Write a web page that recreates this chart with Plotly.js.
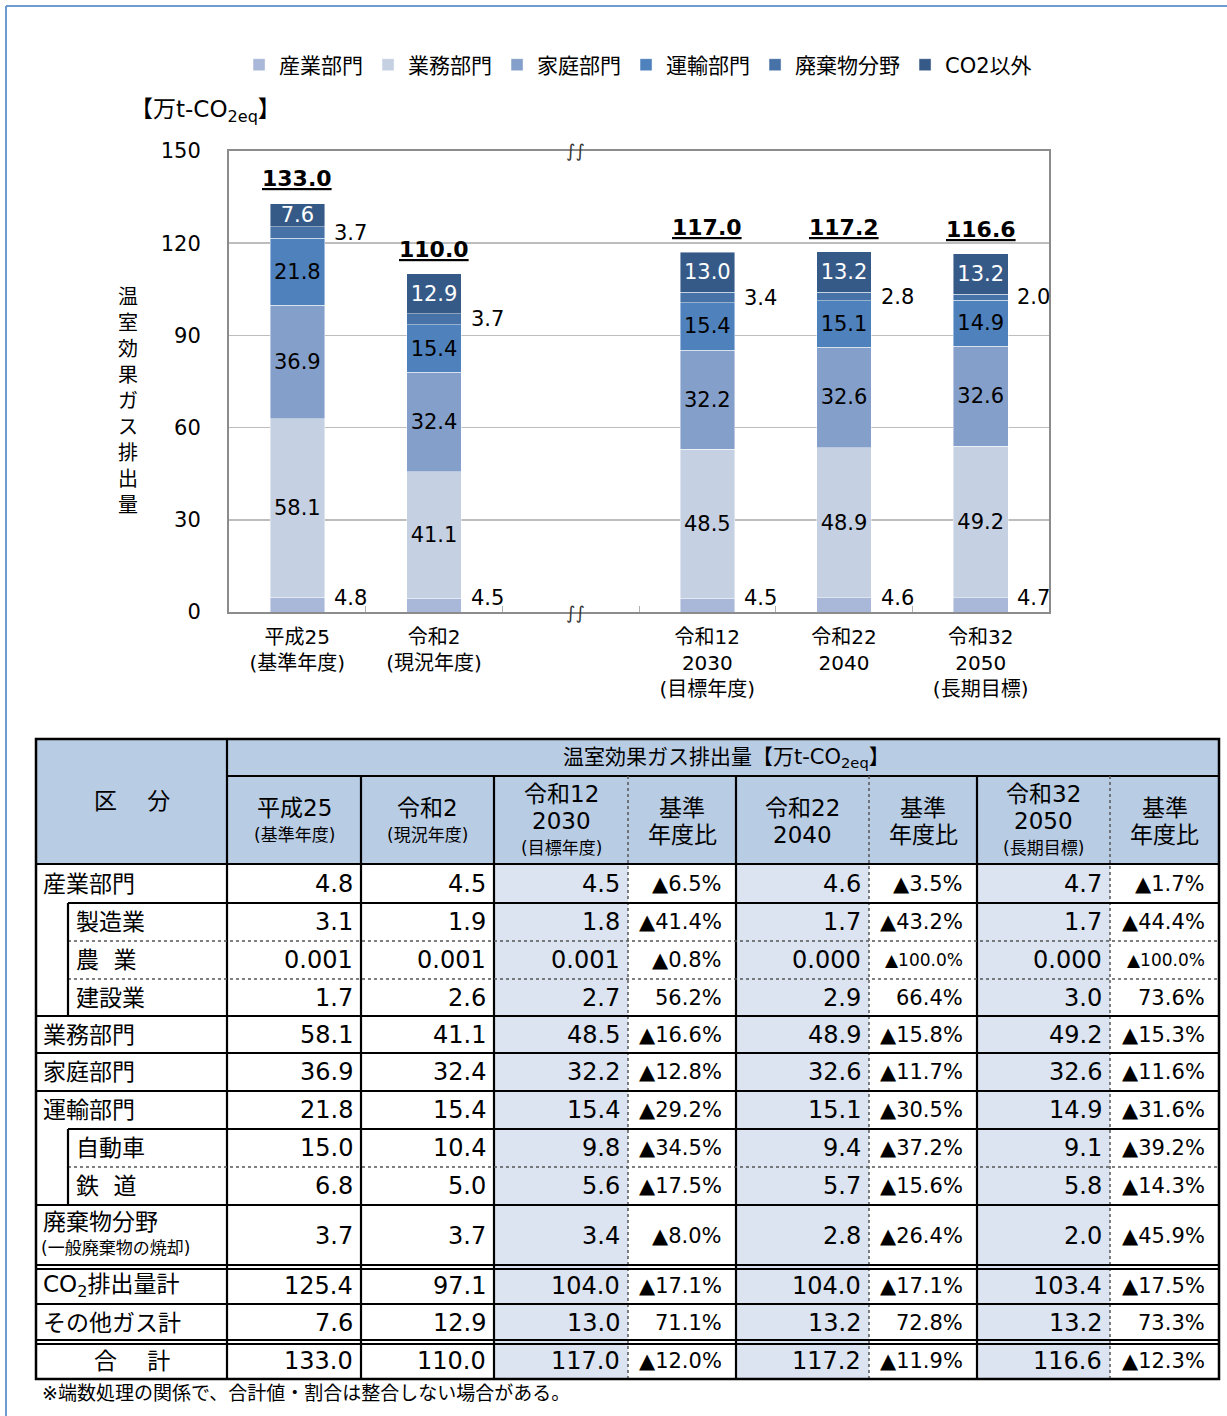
<!DOCTYPE html>
<html>
<head>
<meta charset="utf-8">
<script src="https://cdn.plot.ly/plotly-3.0.1.min.js"></script>
<style>
  html, body { margin: 0; padding: 0; background: #ffffff; }
  #chart { width: 1227px; height: 1416px; }
</style>
</head>
<body>
<div id="chart"></div>
<script>
// ---------------- DATA ----------------
const categories = ['平成25<br>(基準年度)', '令和2<br>(現況年度)', '令和12<br>2030<br>(目標年度)', '令和22<br>2040', '令和32<br>2050<br>(長期目標)'];
const spacerCategory = ' ';
const sectorNames = ['産業部門', '業務部門', '家庭部門', '運輸部門', '廃棄物分野', 'CO2以外'];
const industry  = [4.8, 4.5, 4.5, 4.6, 4.7];
const business  = [58.1, 41.1, 48.5, 48.9, 49.2];
const household = [36.9, 32.4, 32.2, 32.6, 32.6];
const transport = [21.8, 15.4, 15.4, 15.1, 14.9];
const waste     = [3.7, 3.7, 3.4, 2.8, 2.0];
const nonCO2    = [7.6, 12.9, 13.0, 13.2, 13.2];
const totals    = [133.0, 110.0, 117.0, 117.2, 116.6];
const yTicks    = [0, 30, 60, 90, 120, 150];

// table data
const tableTitle = '温室効果ガス排出量【万t-CO<sub>2eq</sub>】';
const cornerLabel = '区\u3000\u00a0分';
const colHeadMain = ['平成25', '令和2', '令和12<br>2030', '基準<br>年度比', '令和22<br>2040', '基準<br>年度比', '令和32<br>2050', '基準<br>年度比'];
const colHeadSub  = ['(基準年度)', '(現況年度)', '(目標年度)', '', '', '', '(長期目標)', ''];
const rowLabels = ['産業部門', '製造業', '農\u00a0\u00a0業', '建設業', '業務部門', '家庭部門', '運輸部門', '自動車', '鉄\u00a0\u00a0道', '廃棄物分野', 'CO<sub>2</sub>排出量計', 'その他ガス計', '合\u3000\u00a0計'];
const rowNotes  = ['', '', '', '', '', '', '', '', '', '(一般廃棄物の焼却)', '', '', ''];
const colH25     = [4.8, 3.1, 0.001, 1.7, 58.1, 36.9, 21.8, 15.0, 6.8, 3.7, 125.4, 7.6, 133.0];
const colR2      = [4.5, 1.9, 0.001, 2.6, 41.1, 32.4, 15.4, 10.4, 5.0, 3.7, 97.1, 12.9, 110.0];
const colR12     = [4.5, 1.8, 0.001, 2.7, 48.5, 32.2, 15.4, 9.8, 5.6, 3.4, 104.0, 13.0, 117.0];
const colR12Rate = [-6.5, -41.4, -0.8, 56.2, -16.6, -12.8, -29.2, -34.5, -17.5, -8.0, -17.1, 71.1, -12.0];
const colR22     = [4.6, 1.7, 0.000, 2.9, 48.9, 32.6, 15.1, 9.4, 5.7, 2.8, 104.0, 13.2, 117.2];
const colR22Rate = [-3.5, -43.2, -100.0, 66.4, -15.8, -11.7, -30.5, -37.2, -15.6, -26.4, -17.1, 72.8, -11.9];
const colR32     = [4.7, 1.7, 0.000, 3.0, 49.2, 32.6, 14.9, 9.1, 5.8, 2.0, 103.4, 13.2, 116.6];
const colR32Rate = [-1.7, -44.4, -100.0, 73.6, -15.3, -11.6, -31.6, -39.2, -14.3, -45.9, -17.5, 73.3, -12.3];
const footnote = '※端数処理の関係で、合計値・割合は整合しない場合がある。';

// ---------------- STYLE / LAYOUT CONSTANTS ----------------
const W = 1227, H = 1416;
const FONT = "'DejaVu Sans', 'Noto Sans CJK JP', sans-serif";
const px = x => x / W;
const py = y => 1 - y / H;
const sectorColors = ['#a9b8d9', '#c5d0e3', '#849fc9', '#4f81bd', '#4772a8', '#365a87'];
const insideLabel  = [false, true, true, true, false, true];
const labelColors  = ['#000', '#000', '#000', '#000', '#000', '#fff'];
const series = [industry, business, household, transport, waste, nonCO2];

const traces = series.map((vals, i) => ({
  type: 'bar',
  name: sectorNames[i],
  x: categories,
  y: vals,
  width: 0.4,
  marker: { color: sectorColors[i], line: { color: 'rgba(255,255,255,0.55)', width: 0.8 } },
  text: insideLabel[i] ? vals.map(v => v.toFixed(1)) : undefined,
  textposition: insideLabel[i] ? 'inside' : 'none',
  insidetextanchor: 'middle',
  textangle: 0,
  constraintext: 'none',
  textfont: { family: FONT, size: 21, color: labelColors[i] },
  hoverinfo: 'skip',
  xaxis: 'x', yaxis: 'y'
}));

const annotations = [];
const shapes = [];

// outside labels for small segments + totals
categories.forEach((c, i) => {
  annotations.push({ x: c, y: industry[i] / 2, xref: 'x', yref: 'y', text: industry[i].toFixed(1),
    showarrow: false, xanchor: 'center', yanchor: 'middle', xshift: 53, yshift: 7,
    font: { family: FONT, size: 21, color: '#000' } });
  const base = industry[i] + business[i] + household[i] + transport[i];
  annotations.push({ x: c, y: base + waste[i] / 2, xref: 'x', yref: 'y', text: waste[i].toFixed(1),
    showarrow: false, xanchor: 'center', yanchor: 'middle', xshift: 53,
    font: { family: FONT, size: 21, color: '#000' } });
  annotations.push({ x: c, y: totals[i], xref: 'x', yref: 'y', text: '<b><u>' + totals[i].toFixed(1) + '</u></b>',
    showarrow: false, xanchor: 'center', yanchor: 'bottom', yshift: 10,
    font: { family: FONT, size: 22, color: '#000' } });
});

// axis break marks
[1, 0].forEach(yy => {
  annotations.push({ x: spacerCategory, y: yy, xref: 'x', yref: 'y domain', text: '∫∫', showarrow: false,
    xanchor: 'center', yanchor: 'middle', xshift: 5, font: { family: FONT, size: 18, color: '#333' } });
});

// y-axis title (vertical stacked characters)
annotations.push({ x: px(128), y: py(401), xref: 'paper', yref: 'paper', showarrow: false,
  xanchor: 'center', yanchor: 'middle',
  text: '温室効果ガス排出量'.split('').join('<br>'), font: { family: FONT, size: 20, color: '#000' } });
// unit
annotations.push({ x: px(128), y: py(111), xref: 'paper', yref: 'paper', showarrow: false,
  xanchor: 'left', yanchor: 'middle',
  text: '【万t-CO<sub>2eq</sub>】', font: { family: FONT, size: 23, color: '#000' } });

// outer frame
shapes.push({ type: 'line', xref: 'paper', yref: 'paper', x0: px(6), x1: 1, y0: py(6), y1: py(6), line: { color: '#6d9bd6', width: 2 } });
shapes.push({ type: 'line', xref: 'paper', yref: 'paper', x0: px(6), x1: px(6), y0: py(6), y1: 0, line: { color: '#6d9bd6', width: 2 } });

// ---------------- TABLE ----------------
const T_LEFT = 36, T_TOP = 739, T_W = 1183, T_H = 640;
const colEdges = [0, 191, 325, 458, 592, 700, 833, 941, 1074, 1183];
const HEAD1 = 37, HEAD2 = 125;
const rowHeights = [39, 38, 38, 37, 37, 38, 38, 38, 38, 62, 37, 38, 37];
const rowEdges = [HEAD2];
rowHeights.forEach(h => rowEdges.push(rowEdges[rowEdges.length - 1] + h));
const subRows = [1, 2, 3, 7, 8];
const SUB_X = 32;
const doubleEdges = [10, 12];
const projCols = [2, 4, 6];
const valueCols = [colH25, colR2, colR12, colR12Rate, colR22, colR22Rate, colR32, colR32Rate];
const isRate = [false, false, false, true, false, true, false, true];

const tx = 'x2', ty = 'y2';
const LINE = { color: '#000', width: 2.2 };
const DOT = { color: '#555', width: 1.5, dash: 'dot' };
const hl = (y, x0, x1, line) => shapes.push({ type: 'line', xref: tx, yref: ty, x0, x1, y0: y, y1: y, line });
const vl = (x, y0, y1, line) => shapes.push({ type: 'line', xref: tx, yref: ty, x0: x, x1: x, y0, y1, line });

// fills
shapes.push({ type: 'rect', xref: tx, yref: ty, x0: 0, x1: T_W, y0: 0, y1: HEAD2, fillcolor: '#b8cce4', line: { width: 0 } });
projCols.forEach(j => {
  shapes.push({ type: 'rect', xref: tx, yref: ty, x0: colEdges[j + 1], x1: colEdges[j + 2], y0: HEAD2, y1: T_H, fillcolor: '#dbe4f0', line: { width: 0 } });
});
// header lines
hl(HEAD1, colEdges[1], T_W, LINE);
hl(HEAD2, 0, T_W, LINE);
vl(colEdges[1], 0, T_H, LINE);
[2, 3, 5, 7].forEach(k => vl(colEdges[k], HEAD1, T_H, LINE));
[4, 6, 8].forEach(k => vl(colEdges[k], HEAD1, T_H, DOT));
// row separators
for (let k = 1; k < rowHeights.length; k++) {
  const y = rowEdges[k];
  const curSub = subRows.includes(k), prevSub = subRows.includes(k - 1);
  const x0 = curSub ? SUB_X : 0;
  if (doubleEdges.includes(k)) {
    hl(y - 2, 0, T_W, { color: '#000', width: 2 });
    hl(y + 2, 0, T_W, { color: '#000', width: 2 });
  } else if (curSub && prevSub) {
    hl(y, x0, T_W, DOT);
  } else {
    hl(y, x0, T_W, LINE);
  }
}
vl(SUB_X, rowEdges[1], rowEdges[4], LINE);
vl(SUB_X, rowEdges[7], rowEdges[9], LINE);
// outer border
shapes.push({ type: 'rect', xref: tx, yref: ty, x0: 0, x1: T_W, y0: 0, y1: T_H, line: { color: '#000', width: 2.5 } });

// table texts
const ta = (x, y, text, size, xanchor) => annotations.push({ x, y, xref: tx, yref: ty, text, showarrow: false,
  xanchor: xanchor || 'center', yanchor: 'middle', font: { family: FONT, size, color: '#000' } });

ta((colEdges[1] + T_W) / 2 + 3, HEAD1 / 2, tableTitle, 21);
ta(colEdges[1] / 2, 62, cornerLabel, 23);
colHeadMain.forEach((m, j) => {
  const lines = m.split('<br>').map(s => [s, 23]);
  if (colHeadSub[j]) lines.push([colHeadSub[j], 17]);
  const cx = (colEdges[j + 1] + colEdges[j + 2]) / 2;
  lines.forEach((ln, k) => ta(cx, 82 + (k - (lines.length - 1) / 2) * 27, ln[0], ln[1]));
});
rowLabels.forEach((lab, r) => {
  const cy = (rowEdges[r] + rowEdges[r + 1]) / 2;
  const isSub = subRows.includes(r);
  const isTotal = r === rowLabels.length - 1;
  if (isTotal) {
    ta(colEdges[1] / 2, cy, lab, 23);
  } else if (rowNotes[r]) {
    ta(5, cy - 14, lab, 23, 'left');
    ta(3, cy + 12, rowNotes[r], 17, 'left');
  } else {
    ta(isSub ? SUB_X + 6 : 5, cy, lab, 23, 'left');
  }
  valueCols.forEach((col, j) => {
    const v = col[r];
    if (isRate[j]) {
      const txt = (v < 0 ? '▲' : '') + Math.abs(v).toFixed(1) + '%';
      const size = Math.abs(v) >= 100 ? 17 : 21;
      ta(colEdges[j + 2] - 12, cy, txt, size, 'right');
    } else {
      const txt = Math.abs(v) < 0.05 ? v.toFixed(3) : v.toFixed(1);
      ta(colEdges[j + 2] - 6, cy, txt, 24, 'right');
    }
  });
});
annotations.push({ x: px(40), y: py(1393), xref: 'paper', yref: 'paper', xanchor: 'left', yanchor: 'middle',
  showarrow: false, text: footnote, font: { family: FONT, size: 19, color: '#000' } });

// ---------------- LAYOUT ----------------
const layout = {
  width: W, height: H,
  autosize: false,
  margin: { l: 0, r: 0, t: 0, b: 0, pad: 0 },
  paper_bgcolor: '#ffffff',
  plot_bgcolor: '#ffffff',
  font: { family: FONT, size: 21, color: '#000' },
  barmode: 'stack',
  showlegend: true,
  legend: {
    orientation: 'h', traceorder: 'normal',
    x: 0.52, xanchor: 'center', y: py(65), yanchor: 'middle',
    font: { family: FONT, size: 21, color: '#000' },
    bgcolor: 'rgba(0,0,0,0)', itemclick: false, itemdoubleclick: false
  },
  xaxis: {
    domain: [px(229), px(1049)],
    type: 'category',
    categoryorder: 'array',
    categoryarray: [categories[0], categories[1], spacerCategory, categories[2], categories[3], categories[4]],
    range: [-0.5, 5.5],
    showline: true, mirror: true, linecolor: '#8c8c8c', linewidth: 2,
    ticks: 'inside', tickson: 'boundaries', ticklen: 6, tickcolor: '#b0b0b0', tickwidth: 1,
    showgrid: false, zeroline: false,
    tickfont: { family: FONT, size: 20, color: '#000' },
    ticklabelstandoff: 6,
    fixedrange: true
  },
  yaxis: {
    domain: [py(612), py(151)],
    range: [0, 150],
    tickvals: yTicks,
    ticks: '',
    showline: true, mirror: true, linecolor: '#8c8c8c', linewidth: 2,
    showgrid: true, gridcolor: '#bdbdbd', gridwidth: 1.5,
    zeroline: false,
    tickfont: { family: FONT, size: 21, color: '#000' },
    ticklabelstandoff: 22,
    fixedrange: true
  },
  xaxis2: {
    domain: [px(T_LEFT - 2), px(T_LEFT + T_W + 2)],
    range: [-2, T_W + 2], visible: false, fixedrange: true, anchor: 'y2'
  },
  yaxis2: {
    domain: [py(T_TOP + T_H + 2), py(T_TOP - 2)],
    range: [T_H + 2, -2], visible: false, fixedrange: true, anchor: 'x2'
  },
  shapes: shapes,
  annotations: annotations
};

Plotly.newPlot('chart', traces, layout, { staticPlot: true, displayModeBar: false });
</script>
</body>
</html>
